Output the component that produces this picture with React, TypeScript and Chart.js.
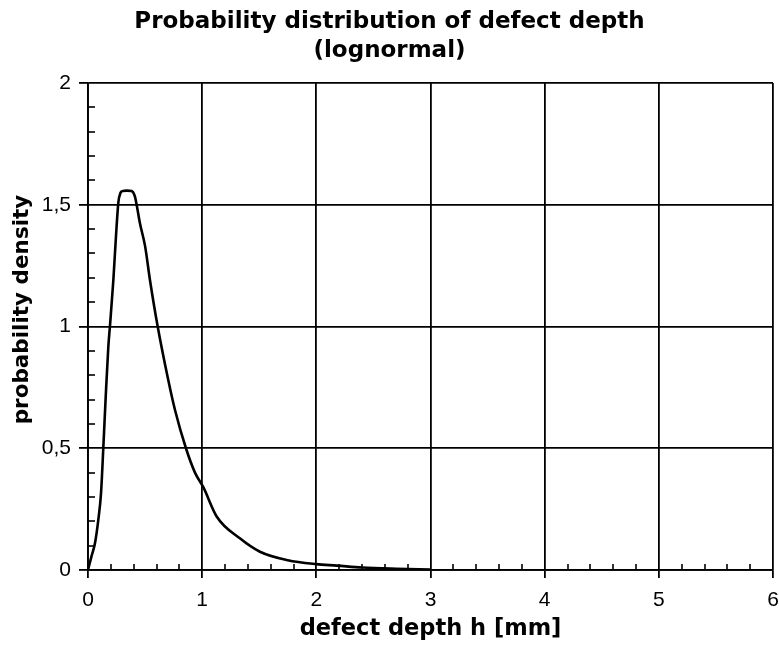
import { useEffect, useRef } from "react";
import { Chart, registerables } from "chart.js";

Chart.register(...registerables);

// ---- data ----
const depthMm = [
  0, 0.03, 0.061, 0.09, 0.114, 0.134, 0.155, 0.178, 0.193, 0.222, 0.245, 0.266,
  0.286, 0.3, 0.34, 0.382, 0.41, 0.426, 0.455, 0.5, 0.543, 0.608, 0.703, 0.762,
  0.858, 0.937, 1.01, 1.127, 1.33, 1.506, 1.75, 2.0, 2.18, 2.4, 2.7, 3.0,
];
const density = [
  0, 0.055, 0.11, 0.205, 0.315, 0.5, 0.71, 0.917, 1.006, 1.19, 1.37, 1.51,
  1.55, 1.556, 1.558, 1.556, 1.535, 1.5, 1.424, 1.33, 1.19, 1.006, 0.78, 0.657,
  0.5, 0.4, 0.34, 0.22, 0.13, 0.075, 0.04, 0.024, 0.018, 0.01, 0.005, 0.002,
];
const xRange = [0, 6];
const yRange = [0, 2];
const xMajorStep = 1;
const yMajorStep = 0.5;
const xMinorStep = 0.2;
const yMinorStep = 0.1;
const titleLines = ["Probability distribution of defect depth", "(lognormal)"];
const xTitle = "defect depth h [mm]";
const yTitle = "probability density";

const fmt = (v: number) => String(v).replace(".", ",");

const minorTicksPlugin = {
  id: "minorTicks",
  afterDatasetsDraw(chart: any) {
    const { ctx, scales } = chart;
    const xs = scales.x;
    const ys = scales.y;
    ctx.save();
    ctx.strokeStyle = "#000";
    ctx.lineWidth = 1.6;
    const x0 = xs.getPixelForValue(xRange[0]);
    const y0 = ys.getPixelForValue(yRange[0]);
    const ny = Math.round((yRange[1] - yRange[0]) / yMinorStep);
    for (let i = 1; i < ny; i++) {
      const v = yRange[0] + i * yMinorStep;
      if (Math.abs(v / yMajorStep - Math.round(v / yMajorStep)) < 1e-6) continue;
      const py = Math.round(ys.getPixelForValue(v));
      ctx.beginPath();
      ctx.moveTo(x0, py);
      ctx.lineTo(x0 + 7, py);
      ctx.stroke();
    }
    const nx = Math.round((xRange[1] - xRange[0]) / xMinorStep);
    for (let i = 1; i < nx; i++) {
      const v = xRange[0] + i * xMinorStep;
      if (Math.abs(v / xMajorStep - Math.round(v / xMajorStep)) < 1e-6) continue;
      const px = Math.round(xs.getPixelForValue(v));
      ctx.beginPath();
      ctx.moveTo(px, y0);
      ctx.lineTo(px, y0 - 6);
      ctx.stroke();
    }
    ctx.restore();
  },
};

const yTitlePlugin = {
  id: "yTitleCustom",
  afterDraw(chart: any) {
    const { ctx, chartArea } = chart;
    ctx.save();
    ctx.translate(22, (chartArea.top + chartArea.bottom) / 2 - 17);
    ctx.rotate(-Math.PI / 2);
    ctx.font = 'bold 21.5px "DejaVu Sans"';
    ctx.textAlign = "center";
    ctx.textBaseline = "middle";
    ctx.fillStyle = "#000";
    ctx.fillText(yTitle, 0, 0);
    ctx.restore();
  },
};

export default function App() {
  const canvasRef = useRef<HTMLCanvasElement | null>(null);

  useEffect(() => {
    document.body.style.margin = "0";
    const canvas = canvasRef.current;
    if (!canvas) return;
    const points = depthMm.map((x, i) => ({ x, y: density[i] }));
    const tickFont = { family: '"Liberation Sans", Arial, sans-serif', size: 21 };
    const chart = new Chart(canvas, {
      type: "line",
      data: {
        datasets: [
          {
            data: points,
            borderColor: "#000",
            borderWidth: 2.6,
            pointRadius: 0,
            fill: false,
            cubicInterpolationMode: "monotone",
          } as any,
        ],
      },
      options: {
        responsive: false,
        animation: false,
        layout: { padding: { left: 0, right: 0, top: 0, bottom: 0 } },
        plugins: {
          legend: { display: false },
          tooltip: { enabled: false },
          title: {
            display: true,
            text: titleLines,
            color: "#000",
            font: { family: '"DejaVu Sans"', weight: "bold", size: 23, lineHeight: 1.25 },
            padding: { top: 8, bottom: 17.5 },
          },
        },
        scales: {
          x: {
            type: "linear",
            min: xRange[0],
            max: xRange[1],
            ticks: {
              stepSize: xMajorStep,
              color: "#000",
              font: tickFont,
              padding: 10,
              maxRotation: 0,
              callback: (v: any) => fmt(Number(v)),
            },
            grid: { color: "#000", lineWidth: 1.8, tickLength: 8, drawTicks: true },
            border: { color: "#000", width: 1.8 },
            title: {
              display: true,
              text: xTitle,
              color: "#000",
              font: { family: '"DejaVu Sans"', weight: "bold", size: 22.5, lineHeight: 1.2 },
              padding: { top: 0, bottom: 5 },
            },
            afterFit: (s: any) => {
              s.height = 78;
              s.paddingRight = 6;
              s.paddingLeft = 0;
            },
          },
          y: {
            type: "linear",
            min: yRange[0],
            max: yRange[1],
            ticks: {
              stepSize: yMajorStep,
              color: "#000",
              font: tickFont,
              padding: 8,
              callback: (v: any) => fmt(Number(v)),
            },
            grid: { color: "#000", lineWidth: 1.8, tickLength: 9, drawTicks: true },
            border: { color: "#000", width: 1.8 },
            afterFit: (s: any) => {
              s.width = 88;
            },
          },
        },
      } as any,
      plugins: [minorTicksPlugin, yTitlePlugin],
    });
    return () => chart.destroy();
  }, []);

  return (
    <div style={{ width: 779, height: 648, background: "#fff" }}>
      <canvas ref={canvasRef} width={779} height={648} />
    </div>
  );
}
